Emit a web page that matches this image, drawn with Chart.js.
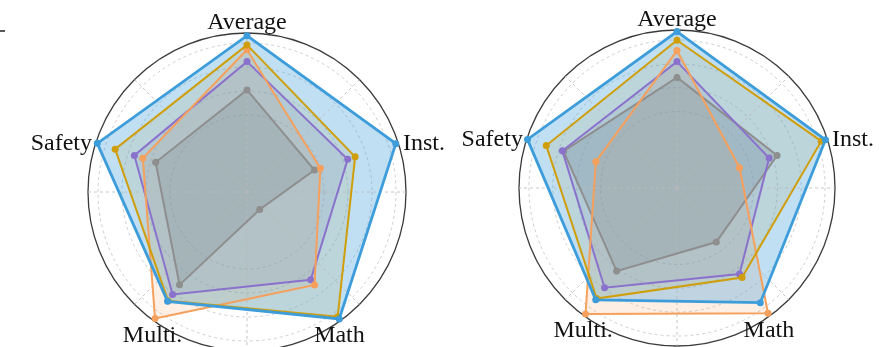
<!DOCTYPE html>
<html>
<head>
<meta charset="utf-8">
<script src="https://cdn.jsdelivr.net/npm/chart.js@4/dist/chart.umd.min.js"></script>
<style>
  html, body { margin: 0; padding: 0; background: #fff; overflow: hidden; width: 879px; height: 347px; }
  canvas { position: absolute; left: 0; top: 0; }
</style>
</head>
<body>
<canvas id="radarLeft" width="879" height="360"></canvas>
<canvas id="radarRight" width="879" height="360"></canvas>
<script>
// Axes of both radar panels, clockwise from the top
const categories = ['Average', 'Inst.', 'Math', 'Multi.', 'Safety'];
const seriesNames = ['Model A', 'Model B', 'Model C', 'Model D', 'Model E'];

// Normalised scores (1 = outer ring), left panel
const leftA = [0.983, 0.984, 0.987, 0.850, 0.990];
const leftB = [0.925, 0.715, 0.970, 0.845, 0.872];
const leftC = [0.895, 0.485, 0.723, 0.984, 0.689];
const leftD = [0.820, 0.666, 0.682, 0.796, 0.745];
const leftE = [0.642, 0.446, 0.136, 0.722, 0.604];

// Normalised scores, right panel
const rightA = [0.990, 0.988, 0.897, 0.875, 0.995];
const rightB = [0.935, 0.960, 0.700, 0.865, 0.870];
const rightC = [0.870, 0.416, 0.980, 0.985, 0.540];
const rightD = [0.800, 0.613, 0.673, 0.780, 0.763];
const rightE = [0.700, 0.666, 0.423, 0.650, 0.755];

// Radial grid rings (dashed) and the outer limit (solid)
const ringLevels = [0.484, 0.635, 0.786, 0.937];
const scaleMax = 1.0;

const palette = [
  { line: '#3d9ddb', fill: 'rgba(61,157,219,0.32)', width: 2.8 },
  { line: '#cf9e0a', fill: 'rgba(207,158,10,0.14)', width: 2 },
  { line: '#f5a05c', fill: 'rgba(245,160,92,0.17)', width: 2 },
  { line: '#8a72cc', fill: 'rgba(138,114,204,0.15)', width: 2 },
  { line: '#8e8e8e', fill: 'rgba(142,142,142,0.30)', width: 2 }
];

// Placement of the axis titles around each panel
const labelLayout = [
  { align: 'center', base: 'alphabetic', gap: 4.5, dx: 0, dy: 0 },
  { align: 'left', base: 'middle', gap: 5, dx: 0, dy: 2 },
  { align: 'center', base: 'alphabetic', gap: 0, dx: -1, dy: 21 },
  { align: 'center', base: 'alphabetic', gap: 0, dx: -1, dy: 21 },
  { align: 'right', base: 'middle', gap: 4, dx: 0, dy: 2 }
];

// Polar spokes every 45 degrees, dashed
const spokesPlugin = {
  id: 'spokes',
  beforeDatasetsDraw(chart) {
    const s = chart.scales.r;
    const ctx = chart.ctx;
    ctx.save();
    ctx.setLineDash([3, 3]);
    ctx.strokeStyle = '#b8b8b8';
    ctx.lineWidth = 0.8;
    for (let k = 0; k < 8; k++) {
      const a = k * Math.PI / 4;
      ctx.beginPath();
      ctx.moveTo(s.xCenter, s.yCenter);
      ctx.lineTo(s.xCenter + s.drawingArea * Math.cos(a), s.yCenter + s.drawingArea * Math.sin(a));
      ctx.stroke();
    }
    ctx.restore();
  }
};

// Axis titles in a serif face
const titlesPlugin = {
  id: 'axisTitles',
  afterDraw(chart) {
    const s = chart.scales.r;
    const ctx = chart.ctx;
    ctx.save();
    ctx.font = '24px "Liberation Serif", "DejaVu Serif", serif';
    ctx.fillStyle = '#111';
    categories.forEach((name, i) => {
      const L = labelLayout[i];
      const p = s.getPointPosition(i, s.drawingArea + L.gap);
      ctx.textAlign = L.align;
      ctx.textBaseline = L.base;
      ctx.fillText(name, p.x + L.dx, p.y + L.dy);
    });
    ctx.restore();
  }
};

// Small leftover tick mark at the upper-left corner
const cornerTick = {
  id: 'cornerTick',
  afterDraw(chart) {
    const ctx = chart.ctx;
    ctx.save();
    ctx.strokeStyle = '#222';
    ctx.lineWidth = 1.5;
    ctx.beginPath();
    ctx.moveTo(0, 31);
    ctx.lineTo(5, 31);
    ctx.stroke();
    ctx.restore();
  }
};

function makeDatasets(series) {
  return series.map((values, i) => ({
    label: seriesNames[i],
    data: values,
    borderColor: palette[i].line,
    backgroundColor: palette[i].fill,
    borderWidth: palette[i].width,
    pointRadius: 3.5,
    pointBackgroundColor: palette[i].line,
    pointBorderWidth: 0,
    pointHoverRadius: 3.5,
    fill: true,
    tension: 0
  }));
}

function makeRadar(canvasId, series, padding, extraPlugins) {
  return new Chart(document.getElementById(canvasId), {
    type: 'radar',
    data: { labels: categories, datasets: makeDatasets(series) },
    options: {
      responsive: false,
      animation: false,
      layout: { padding },
      plugins: {
        legend: { display: false },
        tooltip: { enabled: false },
        // all translucent areas first, outlines on top
        filler: { drawTime: 'beforeDatasetsDraw' }
      },
      scales: {
        r: {
          min: 0,
          max: scaleMax,
          afterBuildTicks(scale) {
            scale.ticks = [0, ...ringLevels, scaleMax].map(v => ({ value: v }));
          },
          ticks: { display: false },
          pointLabels: { display: false },
          angleLines: { display: false },
          grid: {
            circular: true,
            color: c => (c.tick && c.tick.value >= scaleMax ? '#3a3a3a' : '#c2c2c2'),
            lineWidth: c => (c.tick && c.tick.value >= scaleMax ? 1.3 : 0.8)
          },
          border: {
            dash: c => (c.tick && c.tick.value >= scaleMax ? [] : [3, 3])
          }
        }
      }
    },
    plugins: [spokesPlugin, titlesPlugin, ...extraPlugins]
  });
}

makeRadar('radarLeft', [leftA, leftB, leftC, leftD, leftE],
  { left: 88, right: 473, top: 33, bottom: 9 }, [cornerTick]);
makeRadar('radarRight', [rightA, rightB, rightC, rightD, rightE],
  { left: 519, right: 44, top: 30, bottom: 14 }, []);
</script>
</body>
</html>
